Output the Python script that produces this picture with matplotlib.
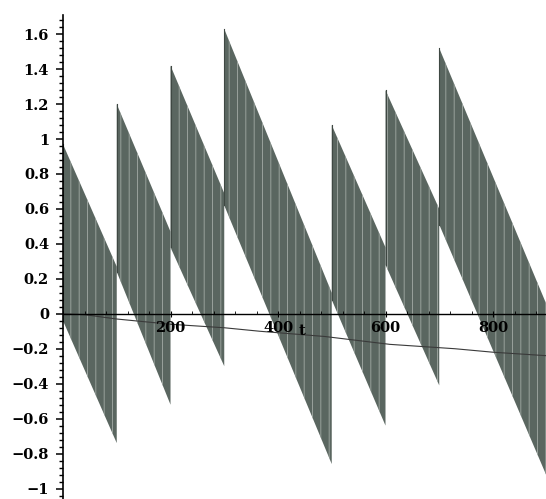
import numpy as np
import matplotlib.pyplot as plt
from matplotlib.ticker import MultipleLocator

# Tramos de la señal (envolventes superior/inferior)
seg_start = [0, 100, 200, 300, 500, 600, 700]
seg_end = [100, 200, 300, 500, 600, 700, 900]
upper_start = [0.97, 1.20, 1.42, 1.63, 1.08, 1.28, 1.52]
upper_end = [0.27, 0.47, 0.69, 0.12, 0.38, 0.60, 0.05]
lower_start = [-0.04, 0.24, 0.38, 0.62, 0.08, 0.28, 0.51]
lower_end = [-0.74, -0.52, -0.30, -0.86, -0.64, -0.41, -0.93]

# Curva lenta de tendencia
trend_t = [0, 40, 100, 200, 300, 366, 487, 608, 729, 800, 900]
trend_y = [0.0, -0.005, -0.03, -0.06, -0.08, -0.10, -0.13, -0.175, -0.20, -0.22, -0.24]

xticks = [200, 400, 600, 800]
yticks = [-1, -0.8, -0.6, -0.4, -0.2, 0, 0.2, 0.4, 0.6, 0.8, 1, 1.2, 1.4, 1.6]
ytick_labels = ['\u22121', '\u22120.8', '\u22120.6', '\u22120.4', '\u22120.2', '0',
                '0.2', '0.4', '0.6', '0.8', '1', '1.2', '1.4', '1.6']

plt.rcParams['hatch.color'] = '#a3aba6'
plt.rcParams['hatch.linewidth'] = 0.6
font = dict(family='DejaVu Serif', weight='bold', size=10.5)

fig = plt.figure(figsize=(5.46, 4.99), dpi=100)
ax = fig.add_axes([63 / 546, 0.0, 1 - 63 / 546, 0.97])
ax.set_axisbelow(False)

for t0, t1, u0, u1, l0, l1 in zip(seg_start, seg_end, upper_start, upper_end,
                                  lower_start, lower_end):
    ax.fill_between([t0, t1], [l0, l1], [u0, u1], facecolor='#5a6660',
                    edgecolor='none', hatch='||', linewidth=0, zorder=1)
    ax.plot([t0, t0], [l0, u0], color='#3f4843', lw=0.8, zorder=1.2)

ax.plot(trend_t, trend_y, color='#3a3a3a', lw=0.8, zorder=1.5)

ax.set_xlim(0, 898.6)
ax.set_ylim(-1.06, 1.71)

for side in ['top', 'right']:
    ax.spines[side].set_visible(False)
ax.spines['bottom'].set_position(('data', 0))
ax.spines['left'].set_position(('data', 0))
ax.spines['bottom'].set_linewidth(1.0)
ax.spines['left'].set_linewidth(1.2)

ax.set_xticks(xticks)
ax.set_xticklabels([str(v) for v in xticks], **font)
ax.xaxis.set_minor_locator(MultipleLocator(40))
ax.set_yticks(yticks)
ax.set_yticklabels(ytick_labels, **font)
ax.yaxis.set_minor_locator(MultipleLocator(0.04))

ax.tick_params(axis='x', which='major', direction='inout', length=5, pad=3)
ax.tick_params(axis='x', which='minor', direction='in', length=2.5)
ax.tick_params(axis='y', which='major', direction='out', length=5, width=1.1, pad=5)
ax.tick_params(axis='y', which='minor', direction='out', length=3, width=1.0)

ax.text(445, -0.06, 't', ha='center', va='top', zorder=3, **font)

fig.savefig('out.png', dpi=100)
